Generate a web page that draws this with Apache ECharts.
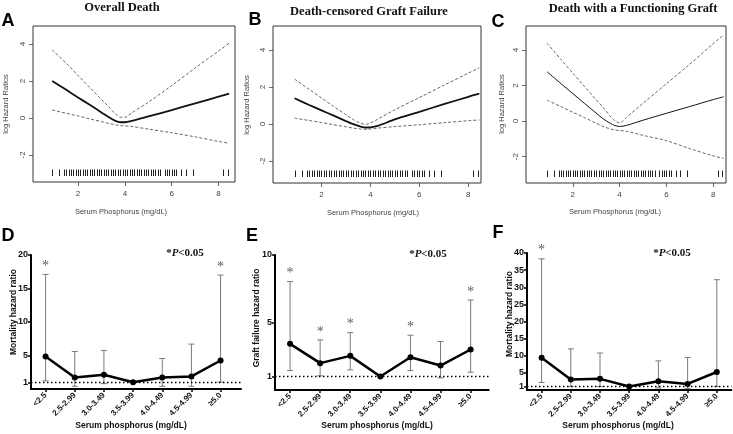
<!DOCTYPE html>
<html><head><meta charset="utf-8">
<script src="https://cdn.jsdelivr.net/npm/echarts@6/dist/echarts.min.js"></script>
<style>html,body{margin:0;padding:0;background:#fff}#c{width:733px;height:434px}</style>
</head><body><div id="c"></div>
<script>
// ---------- top panels: spline log hazard ratios ----------
const splineX = [0.9, 1.5, 2, 2.5, 3, 3.3, 3.6, 3.8, 4.0, 4.3, 5, 6, 7, 8, 8.45];
const aSolid = [2.0, 1.52, 1.11, 0.71, 0.30, 0.05, -0.16, -0.23, -0.23, -0.16, 0.08, 0.43, 0.79, 1.15, 1.31];
const aUpper = [3.68, 2.95, 2.3, 1.65, 1.0, 0.62, 0.22, 0.04, 0.04, 0.28, 0.85, 1.75, 2.7, 3.62, 4.04];
const aLower = [0.43, 0.25, 0.11, -0.05, -0.2, -0.29, -0.37, -0.41, -0.43, -0.46, -0.6, -0.8, -1.02, -1.27, -1.37];
const bSolid = [1.39, 1.03, 0.74, 0.45, 0.16, -0.01, -0.14, -0.19, -0.18, -0.1, 0.25, 0.66, 1.07, 1.47, 1.64];
const bUpper = [2.43, 1.87, 1.41, 0.95, 0.5, 0.24, 0.04, -0.02, 0.05, 0.26, 0.77, 1.43, 2.09, 2.75, 3.03];
const bLower = [0.32, 0.19, 0.08, -0.04, -0.15, -0.22, -0.27, -0.29, -0.27, -0.22, -0.14, -0.04, 0.07, 0.18, 0.22];
const cSolid = [2.78, 2.1, 1.55, 1.0, 0.45, 0.13, -0.12, -0.25, -0.3, -0.24, 0.05, 0.44, 0.82, 1.21, 1.37];
const cUpper = [4.38, 3.46, 2.7, 1.95, 1.2, 0.77, 0.28, 0.02, -0.1, 0.22, 1.0, 2.1, 3.2, 4.35, 4.85];
const cLower = [1.18, 0.81, 0.5, 0.2, -0.12, -0.3, -0.44, -0.5, -0.53, -0.57, -0.8, -1.1, -1.55, -1.95, -2.1];
const rugValues = [0.9, 1.2, 1.4, 1.5, 1.6, 1.7, 1.8, 1.9, 2.0, 2.1, 2.2, 2.3, 2.4, 2.5, 2.6, 2.7, 2.8, 2.9,
  3.0, 3.1, 3.2, 3.3, 3.4, 3.5, 3.6, 3.7, 3.8, 3.9, 4.0, 4.1, 4.2, 4.3, 4.4, 4.5, 4.6, 4.7, 4.8, 4.9,
  5.0, 5.1, 5.2, 5.3, 5.4, 5.5, 5.7, 5.8, 5.9, 6.0, 6.1, 6.2, 6.4, 6.6, 6.9, 8.2, 8.4];
const topTicksX = [2, 4, 6, 8];
const topTicksY = [-2, 0, 2, 4];
const topTitles = ['Overall Death', 'Death-censored Graft Failure', 'Death with a Functioning Graft'];

// ---------- bottom panels: categorical hazard ratios ----------
const categories = ['<2.5', '2.5-2.99', '3.0-3.49', '3.5-3.99', '4.0-4.49', '4.5-4.99', '≥5.0'];
const dHR   = [4.85, 1.72, 2.12, 1.0, 1.72, 1.87, 4.25];
const dLow  = [1.22, 0.4, 0.8, null, 0.4, 0.4, 1.03];
const dHigh = [17.1, 5.6, 5.75, null, 4.55, 6.7, 17.0];
const dSig  = [1, 0, 0, 0, 0, 0, 1];
const eHR   = [3.42, 1.99, 2.53, 1.0, 2.43, 1.81, 3.0];
const eLow  = [1.44, 1.05, 1.49, null, 1.44, 0.9, 1.32];
const eHigh = [8.03, 3.71, 4.25, null, 4.06, 3.59, 6.67];
const eSig  = [1, 1, 1, 0, 1, 0, 1];
const fHR   = [9.4, 3.05, 3.25, 1.0, 2.54, 1.77, 5.25];
const fLow  = [2.2, 1.0, 1.0, null, 0.6, 0.4, 1.0];
const fHigh = [38.3, 12.0, 10.8, null, 8.5, 9.5, 32.2];
const fSig  = [1, 0, 0, 0, 0, 0, 0];
const dTicks = [1, 5, 10, 15, 20];
const eTicks = [1, 5, 10];
const fTicks = [1, 5, 10, 15, 20, 25, 30, 35, 40];
const catIdx = [0, 1, 2, 3, 4, 5, 6];
const bottomYNames = ['Mortality hazard ratio', 'Graft failure hazard ratio', 'Mortality hazard ratio'];

const chart = echarts.init(document.getElementById('c'), null, {renderer: 'canvas'});

const topCfg = [
  {left: 33, top: 26, width: 202, height: 156, xmin: 0.08, xmax: 8.7, ymin: -3.46, ymax: 4.97, solid: aSolid, up: aUpper, lo: aLower, lw: 1.8},
  {left: 273, top: 26, width: 208, height: 157, xmin: 0.02, xmax: 8.52, ymin: -3.19, ymax: 5.3, solid: bSolid, up: bUpper, lo: bLower, lw: 1.8},
  {left: 526, top: 26, width: 200, height: 157, xmin: 0, xmax: 8.55, ymin: -3.48, ymax: 5.35, solid: cSolid, up: cUpper, lo: cLower, lw: 1.0}
];
const botCfg = [
  {left: 31, top: 255, width: 210, height: 134, xmax: 6.7, ymax: 20, ticks: dTicks, hr: dHR, low: dLow, high: dHigh, sig: dSig},
  {left: 275, top: 255, width: 213.7, height: 135, xmax: 6.6, ymax: 10, ticks: eTicks, hr: eHR, low: eLow, high: eHigh, sig: eSig},
  {left: 527, top: 253, width: 204.4, height: 137, xmax: 6.5, ymax: 40, ticks: fTicks, hr: fHR, low: fLow, high: fHigh, sig: fSig}
];

const grid = [], xAxis = [], yAxis = [], series = [];
const axTxt = '#444';

topCfg.forEach((c, i) => {
  grid.push({left: c.left, top: c.top, width: c.width, height: c.height, show: true, borderColor: '#333', borderWidth: 1, backgroundColor: 'transparent'});
  xAxis.push({gridIndex: i, type: 'value', min: c.xmin, max: c.xmax,
    axisLine: {show: false, onZero: false}, splitLine: {show: false},
    axisTick: {show: true, customValues: topTicksX, length: 4, lineStyle: {color: '#444', width: 0.8}},
    axisLabel: {customValues: topTicksX, color: axTxt, fontSize: 8, fontFamily: 'Liberation Sans', margin: 8}});
  yAxis.push({gridIndex: i, type: 'value', min: c.ymin, max: c.ymax,
    axisLine: {show: false, onZero: false}, splitLine: {show: false},
    axisTick: {show: true, customValues: topTicksY, length: 4, lineStyle: {color: '#444', width: 0.8}},
    axisLabel: {customValues: topTicksY, color: axTxt, fontSize: 8, fontFamily: 'Liberation Sans', margin: 6, rotate: 90}});
  const mk = (arr) => splineX.map((x, k) => [x, arr[k]]);
  const common = {type: 'line', xAxisIndex: i, yAxisIndex: i, smooth: 0.3, symbol: 'none', silent: true, animation: false};
  series.push(Object.assign({data: mk(c.up), lineStyle: {color: '#555', width: 0.9, type: [3, 2]}}, common));
  series.push(Object.assign({data: mk(c.lo), lineStyle: {color: '#555', width: 0.9, type: [3, 2]}}, common));
  series.push(Object.assign({data: mk(c.solid), lineStyle: {color: '#111', width: c.lw}}, common));
  series.push({type: 'custom', xAxisIndex: i, yAxisIndex: i, data: rugValues.map(v => [v, 0]),
    encode: {x: 0, y: 1}, silent: true, animation: false, clip: false,
    renderItem: (params, api) => {
      const px = Math.round(api.coord([api.value(0), 0])[0]) + 0.5;
      const yb = params.coordSys.y + params.coordSys.height;
      return {type: 'line', shape: {x1: px, y1: yb - 12.5, x2: px, y2: yb - 6}, style: {stroke: '#222', lineWidth: 1}};
    }});
});

botCfg.forEach((c, j) => {
  const i = j + 3;
  grid.push({left: c.left, top: c.top, width: c.width, height: c.height, show: false});
  xAxis.push({gridIndex: i, type: 'value', min: -0.5, max: c.xmax, splitLine: {show: false},
    axisLine: {show: true, onZero: false, lineStyle: {color: '#000', width: 2}},
    axisTick: {show: true, customValues: catIdx, length: 3, lineStyle: {color: '#000', width: 1.5}},
    axisLabel: {customValues: catIdx, formatter: v => categories[Math.round(v)], rotate: 45, fontSize: 8,
      fontWeight: 'bold', color: '#111', margin: 5, fontFamily: 'Liberation Sans'}});
  yAxis.push({gridIndex: i, type: 'value', min: 0, max: c.ymax, splitLine: {show: false},
    axisLine: {show: true, onZero: false, lineStyle: {color: '#000', width: 2}},
    axisTick: {show: true, customValues: c.ticks, length: 3, lineStyle: {color: '#000', width: 1.5}},
    axisLabel: {customValues: c.ticks, fontSize: 9, fontWeight: 'bold', color: '#111', margin: 3, fontFamily: 'Liberation Sans'}});
  const errData = [];
  catIdx.forEach(k => { if (c.low[k] != null) errData.push([k, c.low[k], c.high[k]]); });
  series.push({type: 'custom', xAxisIndex: i, yAxisIndex: i, data: errData, encode: {x: 0, y: [1, 2]},
    silent: true, animation: false, clip: false, z: 2,
    renderItem: (params, api) => {
      const x = api.value(0);
      const p1 = api.coord([x, api.value(1)]), p2 = api.coord([x, api.value(2)]);
      const w = 3, st = {stroke: '#7a7a7a', lineWidth: 1};
      return {type: 'group', children: [
        {type: 'line', shape: {x1: p1[0], y1: p1[1], x2: p2[0], y2: p2[1]}, style: st},
        {type: 'line', shape: {x1: p1[0] - w, y1: p1[1], x2: p1[0] + w, y2: p1[1]}, style: st},
        {type: 'line', shape: {x1: p2[0] - w, y1: p2[1], x2: p2[0] + w, y2: p2[1]}, style: st}
      ]};
    }});
  series.push({type: 'line', xAxisIndex: i, yAxisIndex: i, data: catIdx.map(k => [k, c.hr[k]]),
    symbol: 'circle', symbolSize: 6, itemStyle: {color: '#000'}, lineStyle: {color: '#000', width: 2.5},
    z: 3, silent: true, animation: false,
    markLine: {silent: true, symbol: 'none', label: {show: false}, animation: false,
      lineStyle: {color: '#000', type: [1.5, 2.5], width: 1.3}, data: [{yAxis: 1}]}});
  series.push({type: 'scatter', xAxisIndex: i, yAxisIndex: i, symbolSize: 0, silent: true, animation: false, clip: false,
    data: catIdx.filter(k => c.sig[k]).map(k => [k, c.high[k]]),
    label: {show: true, formatter: '*', position: 'top', distance: 1, fontSize: 14, color: '#333', fontFamily: 'Liberation Serif'}});
});

const txt = (x, y, text, font, fill, rot) => ({type: 'text', x: x, y: y, rotation: rot || 0, silent: true,
  style: {text: text, font: font, fill: fill || '#111', align: 'center', verticalAlign: 'middle'}});
const elements = [
  txt(122, 8, topTitles[0], 'bold 12.5px "Liberation Serif"'),
  txt(369, 12, topTitles[1], 'bold 12.5px "Liberation Serif"'),
  txt(633, 9, topTitles[2], 'bold 12.5px "Liberation Serif"'),
  txt(8, 21, 'A', 'bold 18px "Liberation Sans"', '#000'),
  txt(255, 20, 'B', 'bold 18px "Liberation Sans"', '#000'),
  txt(498, 22, 'C', 'bold 18px "Liberation Sans"', '#000'),
  txt(8, 236, 'D', 'bold 18px "Liberation Sans"', '#000'),
  txt(252, 236, 'E', 'bold 18px "Liberation Sans"', '#000'),
  txt(498, 233, 'F', 'bold 18px "Liberation Sans"', '#000'),
  txt(6, 104, 'log Hazard Ratios', '7.5px "Liberation Sans"', axTxt, Math.PI / 2),
  txt(247, 105, 'log Hazard Ratios', '7.5px "Liberation Sans"', axTxt, Math.PI / 2),
  txt(502, 104, 'log Hazard Ratios', '7.5px "Liberation Sans"', axTxt, Math.PI / 2),
  txt(121, 212, 'Serum Phosphorus (mg/dL)', '7.5px "Liberation Sans"', axTxt),
  txt(373, 213, 'Serum Phosphorus (mg/dL)', '7.5px "Liberation Sans"', axTxt),
  txt(615, 212, 'Serum Phosphorus (mg/dL)', '7.5px "Liberation Sans"', axTxt),
  txt(14, 312, bottomYNames[0], 'bold 8.5px "Liberation Sans"', '#111', Math.PI / 2),
  txt(257, 318, bottomYNames[1], 'bold 8.5px "Liberation Sans"', '#111', Math.PI / 2),
  txt(510, 314, bottomYNames[2], 'bold 8.5px "Liberation Sans"', '#111', Math.PI / 2),
  txt(131, 426, 'Serum phosphorus (mg/dL)', 'bold 8.5px "Liberation Sans"'),
  txt(377, 426, 'Serum phosphorus (mg/dL)', 'bold 8.5px "Liberation Sans"'),
  txt(618, 426, 'Serum phosphorus (mg/dL)', 'bold 8.5px "Liberation Sans"')
];
[[185, 253], [428, 254], [672, 253]].forEach(p => {
  elements.push({type: 'text', x: p[0], y: p[1], silent: true, style: {
    text: '{s|*}{p|P}{s|<0.05}', align: 'center', verticalAlign: 'middle',
    rich: {s: {fontSize: 11, fontWeight: 'bold', fontFamily: 'Liberation Serif', fill: '#111'},
           p: {fontSize: 11, fontWeight: 'bold', fontStyle: 'italic', fontFamily: 'Liberation Serif', fill: '#111'}}}});
});

chart.setOption({animation: false, grid: grid, xAxis: xAxis, yAxis: yAxis, series: series, graphic: {elements: elements}});
</script></body></html>
